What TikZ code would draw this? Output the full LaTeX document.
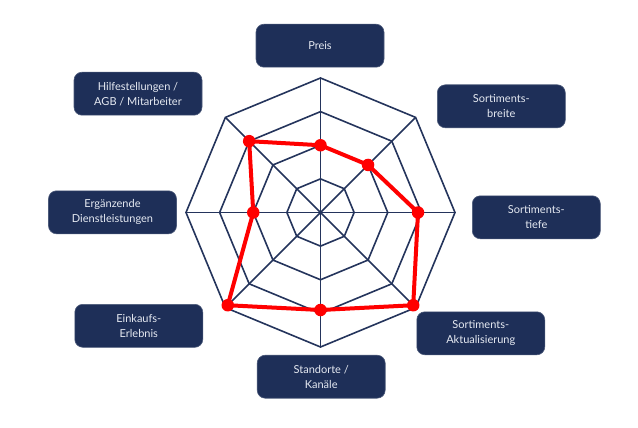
\documentclass[tikz,border=0pt]{standalone}
\usepackage{fontspec}
\setmainfont{Lato}
\usetikzlibrary{calc}
\definecolor{navy}{HTML}{1E2F58}
\definecolor{gridc}{HTML}{24345C}
\definecolor{dred}{HTML}{FF0000}
\definecolor{txt}{HTML}{E6EAF2}
\begin{document}
\begin{tikzpicture}[x=1pt,y=-1pt,
  box/.style={fill=navy,draw=navy!80!white,line width=0.6pt,rounded corners=8pt,minimum width=128pt,minimum height=43pt,text=txt,align=center,font=\fontsize{11}{15}\selectfont,inner sep=0pt},
  gridline/.style={draw=gridc,line width=1.6pt,line join=miter},
  redline/.style={draw=dred,line width=4pt,line join=round},
  dot/.style={circle,fill=dred,minimum size=12.5pt,inner sep=0pt}]
\useasboundingbox (0,0) rectangle (638,428);
\coordinate (c) at (320.5,212.5);
\def\R{134.5}
% rings
\foreach \k in {1,2,3,4}{
  \draw[gridline] ($(c)+(90:\k*\R/4)$) \foreach \a in {45,0,-45,-90,-135,180,135}{ -- ($(c)+(\a:\k*\R/4)$)} -- cycle;
}
% spokes
\foreach \a in {90,45,0,-45,-90,-135,180,135}{
  \draw[gridline] (c) -- ($(c)+(\a:\R)$);
}
% data (y axis points down, so angles are negated)
\coordinate (p1) at ($(c)+(-90:2*\R/4)$);
\coordinate (p2) at ($(c)+(-45:2*\R/4)$);
\coordinate (p3) at ($(c)+(0:2.9*\R/4)$);
\coordinate (p4) at ($(c)+(45:3.9*\R/4)$);
\coordinate (p5) at ($(c)+(90:2.9*\R/4)$);
\coordinate (p6) at ($(c)+(135:3.9*\R/4)$);
\coordinate (p7) at ($(c)+(180:2*\R/4)$);
\coordinate (p8) at ($(c)+(-135:3*\R/4)$);
\draw[redline] (p1) -- (p2) -- (p3) -- (p4) -- (p5) -- (p6) -- (p7) -- (p8) -- cycle;
\foreach \i in {1,...,8}{ \node[dot] (d\i) at (p\i) {}; }
% boxes
\node[box] (preis) at (320,45.7) {Preis};
\node[box] (breite) at (501.3,106.3) {Sortiments-\\breite};
\node[box] (tiefe) at (536.3,217.3) {Sortiments-\\tiefe};
\node[box] (aktual) at (480.8,333.3) {Sortiments-\\Aktualisierung};
\node[box] (standorte) at (321.2,376.7) {Standorte /\\Kanäle};
\node[box] (einkauf) at (138.8,325.8) {Einkaufs-\\Erlebnis};
\node[box] (ergaenz) at (112.5,212.3) {Ergänzende\\Dienstleistungen};
\node[box] (hilfe) at (138,93.7) {Hilfestellungen /\\AGB / Mitarbeiter};
\end{tikzpicture}
\end{document}
